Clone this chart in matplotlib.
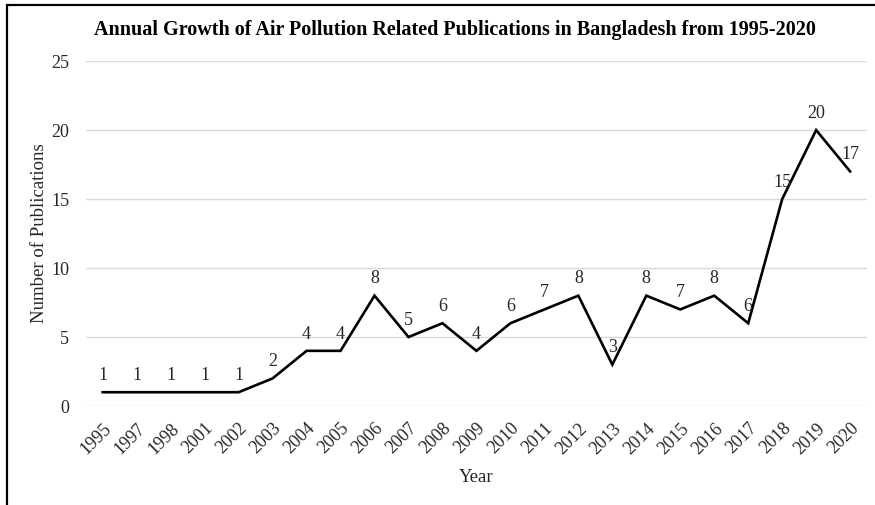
import matplotlib
matplotlib.use("Agg")
import matplotlib.pyplot as plt
from matplotlib.patches import Rectangle

years = ["1995", "1997", "1998", "2001", "2002", "2003", "2004", "2005", "2006",
         "2007", "2008", "2009", "2010", "2011", "2012", "2013", "2014", "2015",
         "2016", "2017", "2018", "2019", "2020"]
publications = [1, 1, 1, 1, 1, 2, 4, 4, 8, 5, 6, 4, 6, 7, 8, 3, 8, 7, 8, 6, 15, 20, 17]
y_ticks = [0, 5, 10, 15, 20, 25]

plt.rcParams["font.family"] = ["Liberation Serif", "DejaVu Serif"]

fig = plt.figure(figsize=(8.75, 5.05), dpi=100)
ax = fig.add_axes([0.098, 0.196, 0.893, 0.683])

x = list(range(len(years)))
ax.plot(x, publications, color="black", linewidth=1.9, solid_joinstyle="miter")
for xi, v in zip(x, publications):
    ax.annotate(str(v), (xi, v), xytext=(0, 6), textcoords="offset points",
                ha="center", va="bottom", fontsize=13, color="#262626")

ax.set_xlim(-0.5, len(years) - 0.5)
ax.set_ylim(0, 25)
ax.set_yticks(y_ticks)
ax.set_xticks(x)
ax.set_xticklabels(years, rotation=45, ha="right", rotation_mode="anchor")
ax.tick_params(axis="both", length=0, labelsize=13, labelcolor="#262626")
ax.tick_params(axis="y", pad=12)
ax.tick_params(axis="x", pad=10)
ax.grid(axis="y", color="#d9d9d9", linewidth=1)
ax.set_axisbelow(True)
for s in ax.spines.values():
    s.set_visible(False)

ax.set_xlabel("Year", fontsize=13.5, color="#262626", labelpad=8)
ax.set_ylabel("Number of Publications", fontsize=13.5, color="#262626", labelpad=2)
fig.text(0.52, 0.94, "Annual Growth of Air Pollution Related Publications in Bangladesh from 1995-2020",
         ha="center", va="center", fontsize=14.5, fontweight="bold", color="black")

fig.patches.append(Rectangle((7 / 875, -0.1), 1.0, (500 / 505) + 0.1, transform=fig.transFigure,
                             fill=False, edgecolor="black", linewidth=1.6, clip_on=False))

fig.savefig("out.png", dpi=100)
